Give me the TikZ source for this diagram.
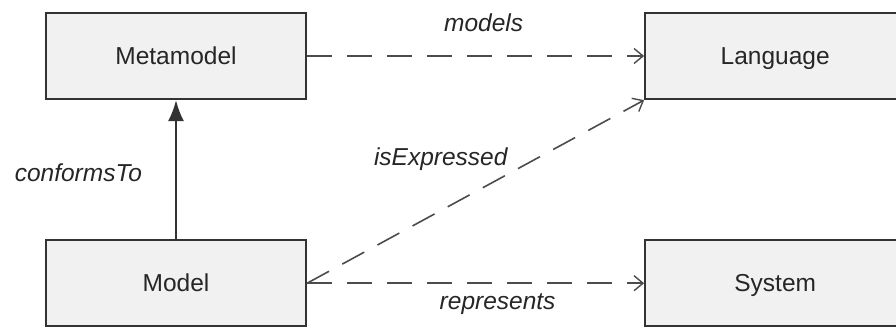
\documentclass[tikz,border=0pt]{standalone}
\usepackage{fontspec}
\setmainfont{Liberation Sans}
\usetikzlibrary{arrows.meta,positioning}
\definecolor{boxfill}{HTML}{F1F1F1}
\definecolor{linegray}{HTML}{333333}
\tikzset{
    %Define style for boxes
    block/.style={
           rectangle,
           draw=linegray, line width=2.2pt,
           fill=boxfill,
           minimum width=260pt,
           minimum height=86pt,
           inner sep=0pt,
           text height=17.5pt, text depth=0pt,
           font=\fontsize{24.5}{29}\selectfont,
           text=black!85,
           text centered},
    %Define style for labels
    lbl/.style={
           inner sep=0pt,
           font=\fontsize{24.5}{29}\selectfont\itshape,
           text=black!85},
    % Define arrow styles
    dep/.style={
           draw=black!70, line width=1.6pt,
           dash pattern=on 25pt off 15pt,
           -{Straight Barb[length=9pt,width=15pt,line width=1.4pt]}},
    conf/.style={
           draw=linegray, line width=2.2pt,
           -{Latex[length=21pt,width=16pt]}}
}
\begin{document}
\begin{tikzpicture}[x=1pt,y=1pt]
\useasboundingbox (0,0) rectangle (896,327);
\clip (0,0) rectangle (896,327);
\node[block] (mm) at (176,271) {Metamodel};
\node[block, right=337pt of mm] (lang) {Language};
\node[block, below=139pt of mm] (mdl) {Model};
\node[block, right=337pt of mdl] (sys) {System};
\path
	(mm) edge[dep] node[lbl, above=23pt, xshift=8pt]{models} (lang)
	(mdl) edge[dep] node[lbl, below=10pt, xshift=22pt]{represents} (sys)
	(mdl.east) edge[dep] node[lbl, pos=0.68, left=28pt]{isExpressed} (lang.south west)
	(mdl) edge[conf] node[lbl, left=33pt, yshift=-3pt]{conformsTo} (mm);
\end{tikzpicture}
\end{document}
